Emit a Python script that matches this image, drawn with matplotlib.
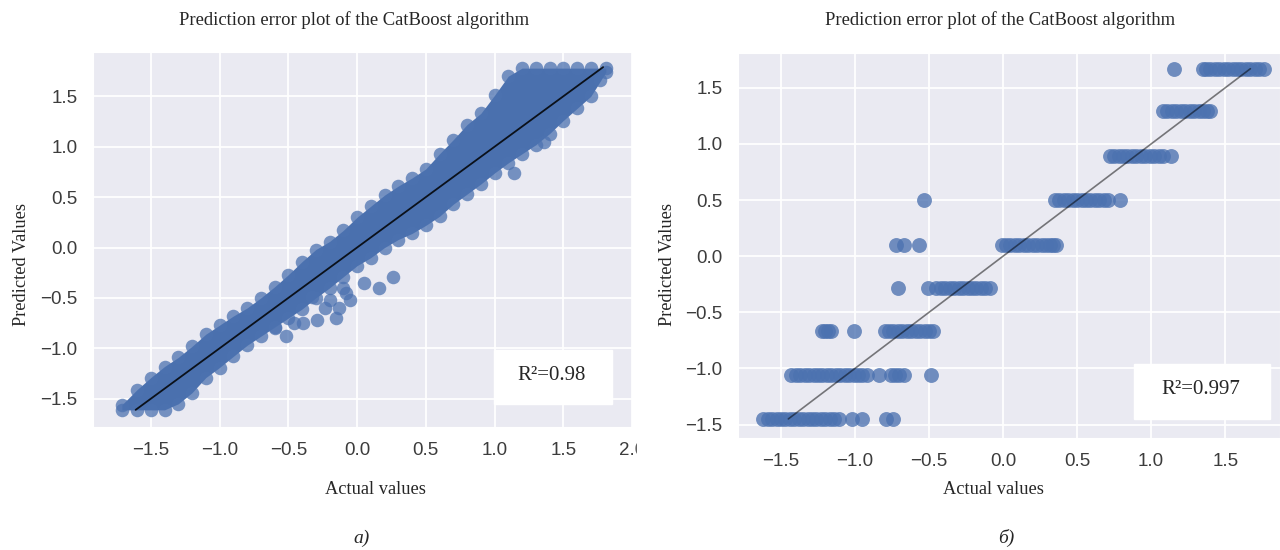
import matplotlib
matplotlib.use("Agg")
import matplotlib.pyplot as plt
import seaborn as sns
from matplotlib.patches import Rectangle

# ---- panel a): dense cloud of predictions ----
# the core of the cloud is described by its lower / upper envelope
band_x = [-1.71, -1.6, -1.5, -1.4, -1.3, -1.2, -1.1, -1.0, -0.9, -0.8, -0.7, -0.6,
          -0.5, -0.4, -0.3, -0.2, -0.1, 0.0, 0.1, 0.2, 0.3, 0.4, 0.5, 0.6,
          0.7, 0.8, 0.9, 1.0, 1.1, 1.2, 1.3, 1.4, 1.5, 1.6, 1.7, 1.81]
band_lo = [-1.61, -1.61, -1.61, -1.61, -1.55, -1.44, -1.29, -1.19, -1.08, -0.97, -0.88, -0.79,
           -0.70, -0.61, -0.50, -0.40, -0.29, -0.18, -0.10, 0.00, 0.08, 0.14, 0.22, 0.31,
           0.43, 0.53, 0.63, 0.74, 0.84, 0.93, 1.02, 1.13, 1.26, 1.38, 1.50, 1.74]
band_hi = [-1.56, -1.41, -1.29, -1.18, -1.09, -0.98, -0.86, -0.77, -0.68, -0.60, -0.50, -0.39,
           -0.27, -0.14, -0.02, 0.06, 0.17, 0.30, 0.41, 0.52, 0.61, 0.69, 0.78, 0.93,
           1.07, 1.22, 1.33, 1.51, 1.70, 1.78, 1.78, 1.78, 1.78, 1.78, 1.78, 1.78]
# points lying outside the dense band
out_actual_a = [0.26, 0.16, 0.05, -0.08, -0.05, -0.13, -0.15, -0.23, -0.29, -0.39,
                -0.46, -0.52, -0.60, -0.33, -0.20, -0.10, 1.14, 1.36, 1.77]
out_pred_a = [-0.29, -0.40, -0.35, -0.45, -0.52, -0.60, -0.70, -0.60, -0.72, -0.75,
              -0.75, -0.88, -0.80, -0.49, -0.52, -0.40, 0.74, 1.05, 1.66]
line_a = [-1.61, 1.79]
r2_a = "R\u00b2=0.98"

# ---- panel b): predictions fall on a few discrete levels ----
levels_b = [1.67, 1.29, 0.89, 0.50, 0.10, -0.28, -0.67, -1.06, -1.45]
actual_b = [
    [1.155, 1.35, 1.37, 1.40, 1.43, 1.46, 1.49, 1.52, 1.55, 1.58, 1.61, 1.64, 1.67, 1.70, 1.73, 1.76],
    [1.08, 1.11, 1.14, 1.17, 1.20, 1.23, 1.26, 1.29, 1.32, 1.35, 1.38, 1.40],
    [0.72, 0.75, 0.78, 0.81, 0.84, 0.87, 0.90, 0.93, 0.96, 0.99, 1.02, 1.05, 1.08, 1.135],
    [-0.535, 0.35, 0.38, 0.41, 0.44, 0.47, 0.50, 0.53, 0.56, 0.59, 0.62, 0.65, 0.68, 0.71, 0.79],
    [-0.72, -0.67, -0.57, -0.01, 0.02, 0.05, 0.08, 0.11, 0.14, 0.17, 0.20, 0.23, 0.26, 0.29,
     0.32, 0.34, 0.36],
    [-0.71, -0.51, -0.45, -0.42, -0.39, -0.36, -0.33, -0.30, -0.27, -0.24, -0.21, -0.18,
     -0.15, -0.12, -0.09],
    [-1.22, -1.20, -1.18, -1.16, -1.01, -0.80, -0.77, -0.74, -0.71, -0.68, -0.65, -0.62,
     -0.59, -0.56, -0.53, -0.50, -0.47],
    [-1.43, -1.40, -1.37, -1.34, -1.31, -1.28, -1.25, -1.22, -1.19, -1.16, -1.13, -1.10,
     -1.07, -1.04, -1.01, -0.98, -0.95, -0.92, -0.835, -0.76, -0.73, -0.70, -0.67, -0.49],
    [-1.62, -1.59, -1.56, -1.53, -1.50, -1.47, -1.44, -1.41, -1.38, -1.35, -1.32, -1.29,
     -1.26, -1.23, -1.20, -1.17, -1.14, -1.11, -1.02, -0.95, -0.79, -0.74],
]
line_b = [-1.45, 1.67]
r2_b = "R\u00b2=0.997"

TITLE = "Prediction error plot of the CatBoost algorithm"
XLABEL = "Actual values"
YLABEL = "Predicted Values"
ticks_a_x = [-1.5, -1.0, -0.5, 0.0, 0.5, 1.0, 1.5, 2.0]
ticks_y = [-1.5, -1.0, -0.5, 0.0, 0.5, 1.0, 1.5]
ticks_b_x = [-1.5, -1.0, -0.5, 0.0, 0.5, 1.0, 1.5]

sns.set_style("darkgrid")
plt.rcParams["font.family"] = ["Liberation Sans", "DejaVu Sans"]
SERIF = ["Liberation Serif", "DejaVu Serif"]
BLUE = "#4c72b0"

W, H = 1280, 550


def fbox(x0, y0, x1, y1):
    """pixel box (top-left origin) -> figure fraction [l, b, w, h]"""
    return [x0 / W, 1 - y1 / H, (x1 - x0) / W, (y1 - y0) / H]


def ftext(x, y, s, **kw):
    fig.text(x / W, 1 - y / H, s, ha="center", va="center", family=SERIF, **kw)


fig = plt.figure(figsize=(12.8, 5.5), dpi=100)
ax_a = fig.add_axes(fbox(93, 52, 632, 427))
ax_b = fig.add_axes(fbox(738, 53, 1280, 438))

# panel a
ax_a.fill_between(band_x, band_lo, band_hi, color="#4a70ae", lw=0, zorder=2)
ax_a.scatter(band_x + band_x, band_lo + band_hi, s=95, color=BLUE, alpha=0.75, lw=0, zorder=3)
ax_a.scatter(out_actual_a, out_pred_a, s=95, color=BLUE, alpha=0.75, lw=0, zorder=3)
ax_a.plot(line_a, line_a, color="black", lw=1.3, alpha=0.85, zorder=4)
ax_a.set_xlim(-1.92, 2.0)
ax_a.set_ylim(-1.78, 1.94)
ax_a.set_xticks(ticks_a_x)

# panel b
for lvl, xs in zip(levels_b, actual_b):
    ax_b.scatter(xs, [lvl] * len(xs), s=115, color=BLUE, alpha=0.78, lw=0, zorder=3)
ax_b.plot(line_b, line_b, color="black", lw=1.2, alpha=0.5, zorder=4)
ax_b.set_xlim(-1.79, 1.87)
ax_b.set_ylim(-1.62, 1.81)
ax_b.set_xticks(ticks_b_x)

for ax in (ax_a, ax_b):
    ax.set_yticks(ticks_y)
    ax.tick_params(labelsize=13.5, pad=11, length=0, labelcolor="#3c3c3c")
    ax.grid(color="white", lw=1.3)

# titles, axis labels, captions
ftext(354, 20, TITLE, fontsize=13.4)
ftext(1000, 20, TITLE, fontsize=13.4)
ftext(375, 489, XLABEL, fontsize=13.2)
ftext(993, 489, XLABEL, fontsize=13.2)
ftext(22, 264, YLABEL, fontsize=13.2, rotation=90)
ftext(667, 264, YLABEL, fontsize=13.2, rotation=90)
ftext(362, 538, "a)", fontsize=14, style="italic")
ftext(1006, 538, "\u0431)", fontsize=14, style="italic")

# R^2 boxes
fig.add_artist(Rectangle(fbox(494, 350, 612, 404)[:2], 118 / W, 54 / H,
                         transform=fig.transFigure, color="white", zorder=5))
fig.add_artist(Rectangle(fbox(1134, 364, 1270, 419)[:2], 136 / W, 55 / H,
                         transform=fig.transFigure, color="white", zorder=5))
ftext(552, 375, r2_a, fontsize=15, zorder=6)
ftext(1201, 389, r2_b, fontsize=15, zorder=6)

# the left panel is cut off through its last tick label in the reference
fig.add_artist(Rectangle(fbox(637, 436, 655, 470)[:2], 18 / W, 34 / H,
                         transform=fig.transFigure, color="white", zorder=10))

fig.savefig("out.png", dpi=100, facecolor="white")
